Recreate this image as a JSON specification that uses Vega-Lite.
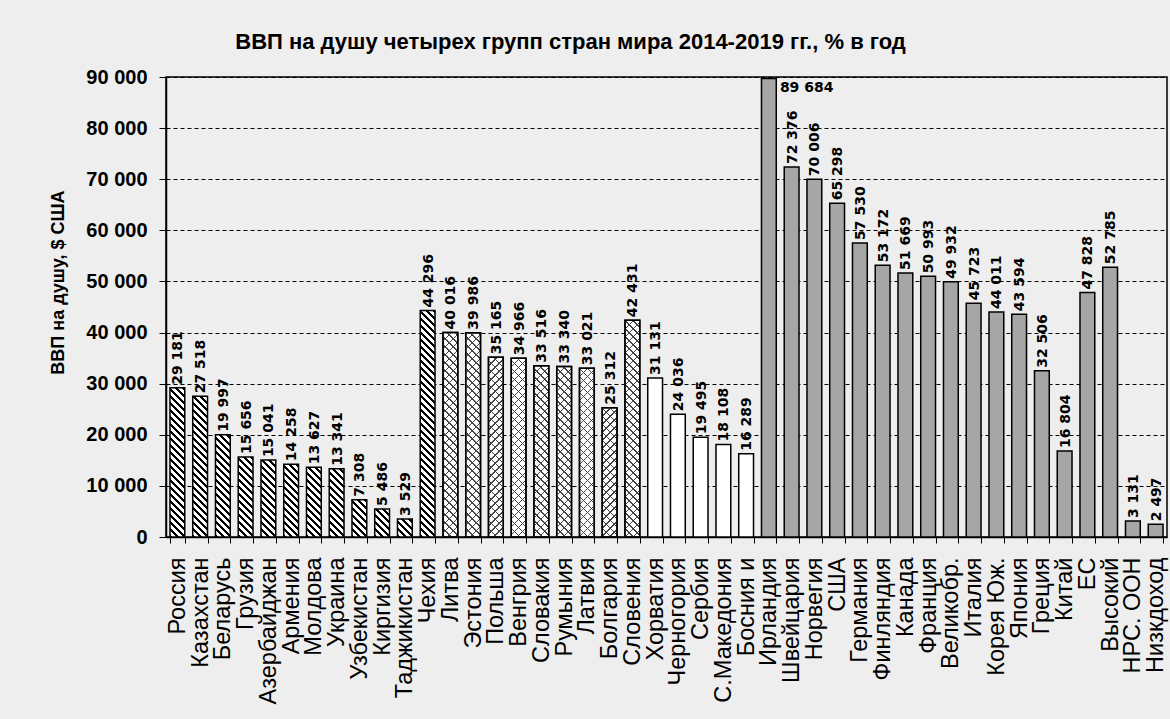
{
  "$schema": "https://vega.github.io/schema/vega-lite/v6.json",
  "width": 1001,
  "height": 460,
  "autosize": {"type": "none"},
  "padding": {"left": 166, "top": 77, "right": 3, "bottom": 182},
  "background": "#eeeeee",
  "title": {"text": "ВВП на душу четырех групп стран мира 2014-2019 гг., % в год", "anchor": "middle", "frame": "group", "dx": -96, "offset": 13, "font": "Liberation Sans", "fontSize": 22, "fontWeight": "bold", "color": "#000"},
  "params": [
    {"name": "hatch", "value": [
      {"offset":0,"color":"#000"},{"offset":0.01,"color":"#000"},{"offset":0.01,"color":"#fff"},{"offset":0.025,"color":"#fff"},
      {"offset":0.025,"color":"#000"},{"offset":0.035,"color":"#000"},{"offset":0.035,"color":"#fff"},{"offset":0.05,"color":"#fff"},
      {"offset":0.05,"color":"#000"},{"offset":0.06,"color":"#000"},{"offset":0.06,"color":"#fff"},{"offset":0.075,"color":"#fff"},
      {"offset":0.075,"color":"#000"},{"offset":0.085,"color":"#000"},{"offset":0.085,"color":"#fff"},{"offset":0.1,"color":"#fff"},
      {"offset":0.1,"color":"#000"},{"offset":0.11,"color":"#000"},{"offset":0.11,"color":"#fff"},{"offset":0.125,"color":"#fff"},
      {"offset":0.125,"color":"#000"},{"offset":0.135,"color":"#000"},{"offset":0.135,"color":"#fff"},{"offset":0.15,"color":"#fff"},
      {"offset":0.15,"color":"#000"},{"offset":0.16,"color":"#000"},{"offset":0.16,"color":"#fff"},{"offset":0.175,"color":"#fff"},
      {"offset":0.175,"color":"#000"},{"offset":0.185,"color":"#000"},{"offset":0.185,"color":"#fff"},{"offset":0.2,"color":"#fff"},
      {"offset":0.2,"color":"#000"},{"offset":0.21,"color":"#000"},{"offset":0.21,"color":"#fff"},{"offset":0.225,"color":"#fff"},
      {"offset":0.225,"color":"#000"},{"offset":0.235,"color":"#000"},{"offset":0.235,"color":"#fff"},{"offset":0.25,"color":"#fff"},
      {"offset":0.25,"color":"#000"},{"offset":0.26,"color":"#000"},{"offset":0.26,"color":"#fff"},{"offset":0.275,"color":"#fff"},
      {"offset":0.275,"color":"#000"},{"offset":0.285,"color":"#000"},{"offset":0.285,"color":"#fff"},{"offset":0.3,"color":"#fff"},
      {"offset":0.3,"color":"#000"},{"offset":0.31,"color":"#000"},{"offset":0.31,"color":"#fff"},{"offset":0.325,"color":"#fff"},
      {"offset":0.325,"color":"#000"},{"offset":0.335,"color":"#000"},{"offset":0.335,"color":"#fff"},{"offset":0.35,"color":"#fff"},
      {"offset":0.35,"color":"#000"},{"offset":0.36,"color":"#000"},{"offset":0.36,"color":"#fff"},{"offset":0.375,"color":"#fff"},
      {"offset":0.375,"color":"#000"},{"offset":0.385,"color":"#000"},{"offset":0.385,"color":"#fff"},{"offset":0.4,"color":"#fff"},
      {"offset":0.4,"color":"#000"},{"offset":0.41,"color":"#000"},{"offset":0.41,"color":"#fff"},{"offset":0.425,"color":"#fff"},
      {"offset":0.425,"color":"#000"},{"offset":0.435,"color":"#000"},{"offset":0.435,"color":"#fff"},{"offset":0.45,"color":"#fff"},
      {"offset":0.45,"color":"#000"},{"offset":0.46,"color":"#000"},{"offset":0.46,"color":"#fff"},{"offset":0.475,"color":"#fff"},
      {"offset":0.475,"color":"#000"},{"offset":0.485,"color":"#000"},{"offset":0.485,"color":"#fff"},{"offset":0.5,"color":"#fff"},
      {"offset":0.5,"color":"#000"},{"offset":0.51,"color":"#000"},{"offset":0.51,"color":"#fff"},{"offset":0.525,"color":"#fff"},
      {"offset":0.525,"color":"#000"},{"offset":0.535,"color":"#000"},{"offset":0.535,"color":"#fff"},{"offset":0.55,"color":"#fff"},
      {"offset":0.55,"color":"#000"},{"offset":0.56,"color":"#000"},{"offset":0.56,"color":"#fff"},{"offset":0.575,"color":"#fff"},
      {"offset":0.575,"color":"#000"},{"offset":0.585,"color":"#000"},{"offset":0.585,"color":"#fff"},{"offset":0.6,"color":"#fff"},
      {"offset":0.6,"color":"#000"},{"offset":0.61,"color":"#000"},{"offset":0.61,"color":"#fff"},{"offset":0.625,"color":"#fff"},
      {"offset":0.625,"color":"#000"},{"offset":0.635,"color":"#000"},{"offset":0.635,"color":"#fff"},{"offset":0.65,"color":"#fff"},
      {"offset":0.65,"color":"#000"},{"offset":0.66,"color":"#000"},{"offset":0.66,"color":"#fff"},{"offset":0.675,"color":"#fff"},
      {"offset":0.675,"color":"#000"},{"offset":0.685,"color":"#000"},{"offset":0.685,"color":"#fff"},{"offset":0.7,"color":"#fff"},
      {"offset":0.7,"color":"#000"},{"offset":0.71,"color":"#000"},{"offset":0.71,"color":"#fff"},{"offset":0.725,"color":"#fff"},
      {"offset":0.725,"color":"#000"},{"offset":0.735,"color":"#000"},{"offset":0.735,"color":"#fff"},{"offset":0.75,"color":"#fff"},
      {"offset":0.75,"color":"#000"},{"offset":0.76,"color":"#000"},{"offset":0.76,"color":"#fff"},{"offset":0.775,"color":"#fff"},
      {"offset":0.775,"color":"#000"},{"offset":0.785,"color":"#000"},{"offset":0.785,"color":"#fff"},{"offset":0.8,"color":"#fff"},
      {"offset":0.8,"color":"#000"},{"offset":0.81,"color":"#000"},{"offset":0.81,"color":"#fff"},{"offset":0.825,"color":"#fff"},
      {"offset":0.825,"color":"#000"},{"offset":0.835,"color":"#000"},{"offset":0.835,"color":"#fff"},{"offset":0.85,"color":"#fff"},
      {"offset":0.85,"color":"#000"},{"offset":0.86,"color":"#000"},{"offset":0.86,"color":"#fff"},{"offset":0.875,"color":"#fff"},
      {"offset":0.875,"color":"#000"},{"offset":0.885,"color":"#000"},{"offset":0.885,"color":"#fff"},{"offset":0.9,"color":"#fff"},
      {"offset":0.9,"color":"#000"},{"offset":0.91,"color":"#000"},{"offset":0.91,"color":"#fff"},{"offset":0.925,"color":"#fff"},
      {"offset":0.925,"color":"#000"},{"offset":0.935,"color":"#000"},{"offset":0.935,"color":"#fff"},{"offset":0.95,"color":"#fff"},
      {"offset":0.95,"color":"#000"},{"offset":0.96,"color":"#000"},{"offset":0.96,"color":"#fff"},{"offset":0.975,"color":"#fff"},
      {"offset":0.975,"color":"#000"},{"offset":0.985,"color":"#000"},{"offset":0.985,"color":"#fff"},{"offset":1,"color":"#fff"}
    ]},
    {"name": "cross", "value": [
      {"offset":0,"color":"#444"},{"offset":0.004,"color":"#444"},{"offset":0.004,"color":"rgba(0,0,0,0)"},{"offset":0.025,"color":"rgba(0,0,0,0)"},
      {"offset":0.025,"color":"#444"},{"offset":0.029,"color":"#444"},{"offset":0.029,"color":"rgba(0,0,0,0)"},{"offset":0.05,"color":"rgba(0,0,0,0)"},
      {"offset":0.05,"color":"#444"},{"offset":0.054,"color":"#444"},{"offset":0.054,"color":"rgba(0,0,0,0)"},{"offset":0.075,"color":"rgba(0,0,0,0)"},
      {"offset":0.075,"color":"#444"},{"offset":0.079,"color":"#444"},{"offset":0.079,"color":"rgba(0,0,0,0)"},{"offset":0.1,"color":"rgba(0,0,0,0)"},
      {"offset":0.1,"color":"#444"},{"offset":0.104,"color":"#444"},{"offset":0.104,"color":"rgba(0,0,0,0)"},{"offset":0.125,"color":"rgba(0,0,0,0)"},
      {"offset":0.125,"color":"#444"},{"offset":0.129,"color":"#444"},{"offset":0.129,"color":"rgba(0,0,0,0)"},{"offset":0.15,"color":"rgba(0,0,0,0)"},
      {"offset":0.15,"color":"#444"},{"offset":0.154,"color":"#444"},{"offset":0.154,"color":"rgba(0,0,0,0)"},{"offset":0.175,"color":"rgba(0,0,0,0)"},
      {"offset":0.175,"color":"#444"},{"offset":0.179,"color":"#444"},{"offset":0.179,"color":"rgba(0,0,0,0)"},{"offset":0.2,"color":"rgba(0,0,0,0)"},
      {"offset":0.2,"color":"#444"},{"offset":0.204,"color":"#444"},{"offset":0.204,"color":"rgba(0,0,0,0)"},{"offset":0.225,"color":"rgba(0,0,0,0)"},
      {"offset":0.225,"color":"#444"},{"offset":0.229,"color":"#444"},{"offset":0.229,"color":"rgba(0,0,0,0)"},{"offset":0.25,"color":"rgba(0,0,0,0)"},
      {"offset":0.25,"color":"#444"},{"offset":0.254,"color":"#444"},{"offset":0.254,"color":"rgba(0,0,0,0)"},{"offset":0.275,"color":"rgba(0,0,0,0)"},
      {"offset":0.275,"color":"#444"},{"offset":0.279,"color":"#444"},{"offset":0.279,"color":"rgba(0,0,0,0)"},{"offset":0.3,"color":"rgba(0,0,0,0)"},
      {"offset":0.3,"color":"#444"},{"offset":0.304,"color":"#444"},{"offset":0.304,"color":"rgba(0,0,0,0)"},{"offset":0.325,"color":"rgba(0,0,0,0)"},
      {"offset":0.325,"color":"#444"},{"offset":0.329,"color":"#444"},{"offset":0.329,"color":"rgba(0,0,0,0)"},{"offset":0.35,"color":"rgba(0,0,0,0)"},
      {"offset":0.35,"color":"#444"},{"offset":0.354,"color":"#444"},{"offset":0.354,"color":"rgba(0,0,0,0)"},{"offset":0.375,"color":"rgba(0,0,0,0)"},
      {"offset":0.375,"color":"#444"},{"offset":0.379,"color":"#444"},{"offset":0.379,"color":"rgba(0,0,0,0)"},{"offset":0.4,"color":"rgba(0,0,0,0)"},
      {"offset":0.4,"color":"#444"},{"offset":0.404,"color":"#444"},{"offset":0.404,"color":"rgba(0,0,0,0)"},{"offset":0.425,"color":"rgba(0,0,0,0)"},
      {"offset":0.425,"color":"#444"},{"offset":0.429,"color":"#444"},{"offset":0.429,"color":"rgba(0,0,0,0)"},{"offset":0.45,"color":"rgba(0,0,0,0)"},
      {"offset":0.45,"color":"#444"},{"offset":0.454,"color":"#444"},{"offset":0.454,"color":"rgba(0,0,0,0)"},{"offset":0.475,"color":"rgba(0,0,0,0)"},
      {"offset":0.475,"color":"#444"},{"offset":0.479,"color":"#444"},{"offset":0.479,"color":"rgba(0,0,0,0)"},{"offset":0.5,"color":"rgba(0,0,0,0)"},
      {"offset":0.5,"color":"#444"},{"offset":0.504,"color":"#444"},{"offset":0.504,"color":"rgba(0,0,0,0)"},{"offset":0.525,"color":"rgba(0,0,0,0)"},
      {"offset":0.525,"color":"#444"},{"offset":0.529,"color":"#444"},{"offset":0.529,"color":"rgba(0,0,0,0)"},{"offset":0.55,"color":"rgba(0,0,0,0)"},
      {"offset":0.55,"color":"#444"},{"offset":0.554,"color":"#444"},{"offset":0.554,"color":"rgba(0,0,0,0)"},{"offset":0.575,"color":"rgba(0,0,0,0)"},
      {"offset":0.575,"color":"#444"},{"offset":0.579,"color":"#444"},{"offset":0.579,"color":"rgba(0,0,0,0)"},{"offset":0.6,"color":"rgba(0,0,0,0)"},
      {"offset":0.6,"color":"#444"},{"offset":0.604,"color":"#444"},{"offset":0.604,"color":"rgba(0,0,0,0)"},{"offset":0.625,"color":"rgba(0,0,0,0)"},
      {"offset":0.625,"color":"#444"},{"offset":0.629,"color":"#444"},{"offset":0.629,"color":"rgba(0,0,0,0)"},{"offset":0.65,"color":"rgba(0,0,0,0)"},
      {"offset":0.65,"color":"#444"},{"offset":0.654,"color":"#444"},{"offset":0.654,"color":"rgba(0,0,0,0)"},{"offset":0.675,"color":"rgba(0,0,0,0)"},
      {"offset":0.675,"color":"#444"},{"offset":0.679,"color":"#444"},{"offset":0.679,"color":"rgba(0,0,0,0)"},{"offset":0.7,"color":"rgba(0,0,0,0)"},
      {"offset":0.7,"color":"#444"},{"offset":0.704,"color":"#444"},{"offset":0.704,"color":"rgba(0,0,0,0)"},{"offset":0.725,"color":"rgba(0,0,0,0)"},
      {"offset":0.725,"color":"#444"},{"offset":0.729,"color":"#444"},{"offset":0.729,"color":"rgba(0,0,0,0)"},{"offset":0.75,"color":"rgba(0,0,0,0)"},
      {"offset":0.75,"color":"#444"},{"offset":0.754,"color":"#444"},{"offset":0.754,"color":"rgba(0,0,0,0)"},{"offset":0.775,"color":"rgba(0,0,0,0)"},
      {"offset":0.775,"color":"#444"},{"offset":0.779,"color":"#444"},{"offset":0.779,"color":"rgba(0,0,0,0)"},{"offset":0.8,"color":"rgba(0,0,0,0)"},
      {"offset":0.8,"color":"#444"},{"offset":0.804,"color":"#444"},{"offset":0.804,"color":"rgba(0,0,0,0)"},{"offset":0.825,"color":"rgba(0,0,0,0)"},
      {"offset":0.825,"color":"#444"},{"offset":0.829,"color":"#444"},{"offset":0.829,"color":"rgba(0,0,0,0)"},{"offset":0.85,"color":"rgba(0,0,0,0)"},
      {"offset":0.85,"color":"#444"},{"offset":0.854,"color":"#444"},{"offset":0.854,"color":"rgba(0,0,0,0)"},{"offset":0.875,"color":"rgba(0,0,0,0)"},
      {"offset":0.875,"color":"#444"},{"offset":0.879,"color":"#444"},{"offset":0.879,"color":"rgba(0,0,0,0)"},{"offset":0.9,"color":"rgba(0,0,0,0)"},
      {"offset":0.9,"color":"#444"},{"offset":0.904,"color":"#444"},{"offset":0.904,"color":"rgba(0,0,0,0)"},{"offset":0.925,"color":"rgba(0,0,0,0)"},
      {"offset":0.925,"color":"#444"},{"offset":0.929,"color":"#444"},{"offset":0.929,"color":"rgba(0,0,0,0)"},{"offset":0.95,"color":"rgba(0,0,0,0)"},
      {"offset":0.95,"color":"#444"},{"offset":0.954,"color":"#444"},{"offset":0.954,"color":"rgba(0,0,0,0)"},{"offset":0.975,"color":"rgba(0,0,0,0)"},
      {"offset":0.975,"color":"#444"},{"offset":0.979,"color":"#444"},{"offset":0.979,"color":"rgba(0,0,0,0)"},{"offset":1,"color":"rgba(0,0,0,0)"}
    ]}
  ],
  "data": {"values": [
    {"c": "Россия", "v": 29181, "g": 1},
    {"c": "Казахстан", "v": 27518, "g": 1},
    {"c": "Беларусь", "v": 19997, "g": 1},
    {"c": "Грузия", "v": 15656, "g": 1},
    {"c": "Азербайджан", "v": 15041, "g": 1},
    {"c": "Армения", "v": 14258, "g": 1},
    {"c": "Молдова", "v": 13627, "g": 1},
    {"c": "Украина", "v": 13341, "g": 1},
    {"c": "Узбекистан", "v": 7308, "g": 1},
    {"c": "Киргизия", "v": 5486, "g": 1},
    {"c": "Таджикистан", "v": 3529, "g": 1},
    {"c": "Чехия", "v": 44296, "g": 1},
    {"c": "Литва", "v": 40016, "g": 2},
    {"c": "Эстония", "v": 39986, "g": 2},
    {"c": "Польша", "v": 35165, "g": 2},
    {"c": "Венгрия", "v": 34966, "g": 2},
    {"c": "Словакия", "v": 33516, "g": 2},
    {"c": "Румыния", "v": 33340, "g": 2},
    {"c": "Латвия", "v": 33021, "g": 2},
    {"c": "Болгария", "v": 25312, "g": 2},
    {"c": "Словения", "v": 42431, "g": 2},
    {"c": "Хорватия", "v": 31131, "g": 3},
    {"c": "Черногория", "v": 24036, "g": 3},
    {"c": "Сербия", "v": 19495, "g": 3},
    {"c": "С.Македония", "v": 18108, "g": 3},
    {"c": "Босния и", "v": 16289, "g": 3},
    {"c": "Ирландия", "v": 89684, "g": 4},
    {"c": "Швейцария", "v": 72376, "g": 4},
    {"c": "Норвегия", "v": 70006, "g": 4},
    {"c": "США", "v": 65298, "g": 4},
    {"c": "Германия", "v": 57530, "g": 4},
    {"c": "Финляндия", "v": 53172, "g": 4},
    {"c": "Канада", "v": 51669, "g": 4},
    {"c": "Франция", "v": 50993, "g": 4},
    {"c": "Великобр.", "v": 49932, "g": 4},
    {"c": "Италия", "v": 45723, "g": 4},
    {"c": "Корея Юж.", "v": 44011, "g": 4},
    {"c": "Япония", "v": 43594, "g": 4},
    {"c": "Греция", "v": 32506, "g": 4},
    {"c": "Китай", "v": 16804, "g": 4},
    {"c": "ЕС", "v": 47828, "g": 4},
    {"c": "Высокий", "v": 52785, "g": 4},
    {"c": "НРС. ООН", "v": 3131, "g": 4},
    {"c": "Низкдоход", "v": 2497, "g": 4}
  ]},
  "encoding": {
    "x": {"field": "c", "type": "nominal", "sort": null,
      "scale": {"paddingInner": 0.35, "paddingOuter": 0.175},
      "axis": {"title": null, "labelAngle": 270, "labelAlign": "right", "labelBaseline": "middle", "labelFont": "Liberation Sans", "labelFontSize": 23.5, "labelColor": "#000", "labelPadding": 14, "labelLimit": 400, "labelOverlap": false, "tickBand": "extent", "tickSize": 6, "tickColor": "#000", "tickWidth": 1, "domainColor": "#000", "domainWidth": 1.5, "grid": false}},
    "y": {"field": "v", "type": "quantitative",
      "scale": {"domain": [0, 90000], "nice": false},
      "axis": {"title": "ВВП на душу, $ США", "titleFont": "Liberation Sans", "titleFontSize": 18, "titleFontWeight": "bold", "titleColor": "#000", "titleX": -103, "titleY": 205, "titleAngle": 270, "titleAlign": "center", "titleBaseline": "alphabetic",
        "values": [0, 10000, 20000, 30000, 40000, 50000, 60000, 70000, 80000, 90000], "format": ",d",
        "labelFont": "Liberation Sans", "labelFontSize": 20, "labelFontWeight": "bold", "labelColor": "#000", "labelPadding": 12,
        "tickSize": 7, "tickColor": "#000", "tickWidth": 1, "domainColor": "#000", "domainWidth": 1.5,
        "grid": true, "gridColor": "#000", "gridDash": [4, 3], "gridWidth": 1, "gridOpacity": 1}}
  },
  "layer": [
    {"mark": {"type": "bar", "stroke": "#000", "strokeWidth": 1.5,
      "fill": {"expr": "datum.g==1 ? {gradient:'linear',x1:0,y1:1,x2:280*bandwidth('x')/(pow(bandwidth('x'),2)+pow(scale('y',0)-scale('y',datum.v),2)),y2:1-280*(scale('y',0)-scale('y',datum.v))/(pow(bandwidth('x'),2)+pow(scale('y',0)-scale('y',datum.v),2)),stops:hatch} : (datum.g==4 ? '#a6a6a6' : '#ffffff')"}}},
    {"transform": [{"filter": "datum.g==2"}],
      "mark": {"type": "bar", "strokeWidth": 0,
      "fill": {"expr": "{gradient:'linear',x1:0,y1:1,x2:320*bandwidth('x')/(pow(bandwidth('x'),2)+pow(scale('y',0)-scale('y',datum.v),2)),y2:1-320*(scale('y',0)-scale('y',datum.v))/(pow(bandwidth('x'),2)+pow(scale('y',0)-scale('y',datum.v),2)),stops:cross}"}}},
    {"transform": [{"filter": "datum.g==2"}],
      "mark": {"type": "bar", "stroke": "#000", "strokeWidth": 1.5,
      "fill": {"expr": "{gradient:'linear',x1:0,y1:0,x2:320*bandwidth('x')/(pow(bandwidth('x'),2)+pow(scale('y',0)-scale('y',datum.v),2)),y2:320*(scale('y',0)-scale('y',datum.v))/(pow(bandwidth('x'),2)+pow(scale('y',0)-scale('y',datum.v),2)),stops:cross}"}}},
    {"transform": [{"filter": "datum.c!='Ирландия'"}],
      "mark": {"type": "text", "angle": 270, "align": "left", "baseline": "middle", "dx": 3, "dy": 1, "font": "DejaVu Sans", "fontSize": 14, "fontWeight": "bold", "color": "#000"},
      "encoding": {"text": {"field": "v", "type": "quantitative", "format": ",d"}}},
    {"transform": [{"filter": "datum.c=='Ирландия'"}],
      "mark": {"type": "text", "align": "left", "baseline": "middle", "dx": 11, "dy": 9, "font": "DejaVu Sans", "fontSize": 14, "fontWeight": "bold", "color": "#000"},
      "encoding": {"text": {"field": "v", "type": "quantitative", "format": ",d"}}}
  ],
  "config": {
    "locale": {"number": {"decimal": ",", "thousands": " ", "grouping": [3], "currency": ["", " $"]}},
    "view": {"stroke": "#000", "strokeWidth": 1.5, "fill": "#eeeeee"}
  }
}
